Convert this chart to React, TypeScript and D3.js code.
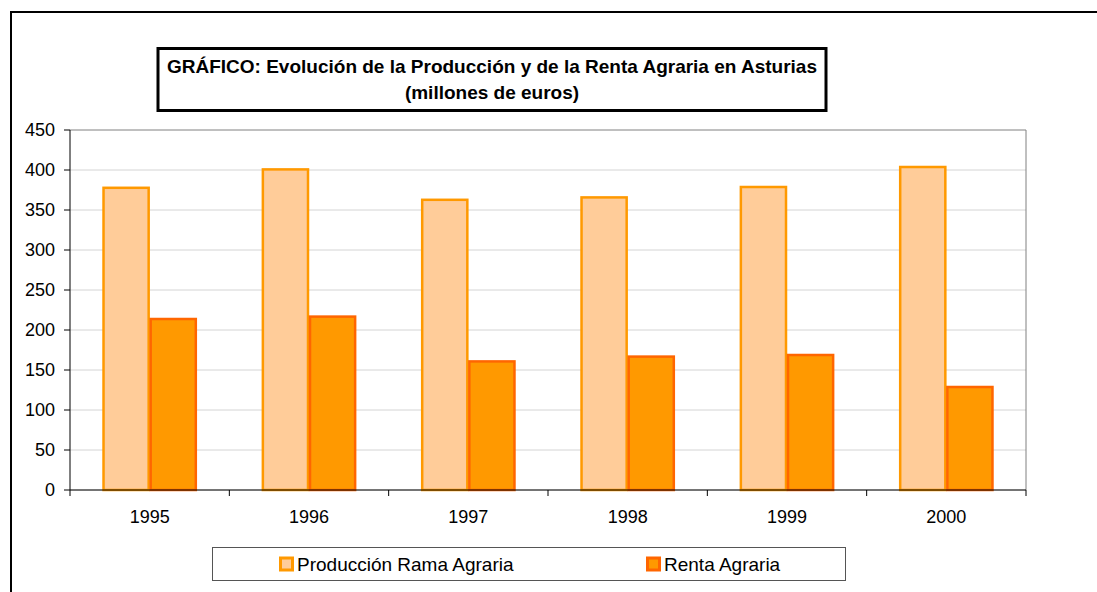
import { useMemo } from "react";
import { scaleBand, scaleLinear } from "d3";

const years = ["1995", "1996", "1997", "1998", "1999", "2000"];
const produccion = [379, 402, 364, 367, 380, 405];
const renta = [215, 218, 162, 168, 170, 130];
const yTicks = [0, 50, 100, 150, 200, 250, 300, 350, 400, 450];
const seriesNames = ["Producción Rama Agraria", "Renta Agraria"];

const W = 1097;
const H = 592;
const plot = { left: 70, right: 1026, top: 130, bottom: 490 };
const font = "'Liberation Sans', Arial, sans-serif";

export default function App() {
  const x = useMemo(
    () => scaleBand().domain(years).range([plot.left, plot.right]),
    []
  );
  const y = useMemo(
    () => scaleLinear().domain([0, 450]).range([plot.bottom, plot.top]),
    []
  );
  const inner = useMemo(
    () => scaleBand().domain(["p", "r"]).range([0, x.bandwidth()]).paddingOuter(0.69),
    [x]
  );
  const bw = inner.bandwidth();

  return (
    <svg
      width={W}
      height={H}
      style={{ position: "absolute", left: 0, top: 0, fontFamily: font }}
    >
      <rect width={W} height={H} fill="#fff" />
      {/* outer chart frame */}
      <path d={`M11,${H} L11,12 L${W},12`} fill="none" stroke="#000" strokeWidth={2} />

      {/* gridlines */}
      {yTicks.map((t) => (
        <line
          key={t}
          x1={plot.left}
          x2={plot.right}
          y1={y(t)}
          y2={y(t)}
          stroke={t === 450 ? "#808080" : "#d4d4d4"}
          strokeWidth={1}
        />
      ))}
      <line x1={plot.right} x2={plot.right} y1={plot.top} y2={plot.bottom} stroke="#808080" />

      {/* bars */}
      {years.map((yr, i) => (
        <g key={yr}>
          <rect
            x={(x(yr) ?? 0) + (inner("p") ?? 0) + 1}
            y={y(produccion[i]) + 1}
            width={bw - 2}
            height={y(0) - y(produccion[i]) - 1}
            fill="#FFCC99"
            stroke="#FF9900"
            strokeWidth={2.5}
          />
          <rect
            x={(x(yr) ?? 0) + (inner("r") ?? 0) + 1}
            y={y(renta[i]) + 1}
            width={bw - 2}
            height={y(0) - y(renta[i]) - 1}
            fill="#FF9900"
            stroke="#FF6600"
            strokeWidth={2.5}
          />
        </g>
      ))}

      {/* axes */}
      <line x1={plot.left} x2={plot.left} y1={plot.top} y2={plot.bottom} stroke="#000" />
      <line x1={plot.left} x2={plot.right} y1={plot.bottom} y2={plot.bottom} stroke="#000" />
      {yTicks.map((t) => (
        <g key={t}>
          <line x1={plot.left - 6} x2={plot.left} y1={y(t)} y2={y(t)} stroke="#000" />
          <text x={55} y={y(t)} dy="0.35em" textAnchor="end" fontSize={18} fill="#000">
            {t}
          </text>
        </g>
      ))}
      {[...years.map((yr) => x(yr) ?? 0), plot.right].map((px, i) => (
        <line key={i} x1={px} x2={px} y1={plot.bottom} y2={plot.bottom + 6} stroke="#000" />
      ))}
      {years.map((yr) => (
        <text
          key={yr}
          x={(x(yr) ?? 0) + x.bandwidth() / 2}
          y={523}
          textAnchor="middle"
          fontSize={18}
          fill="#000"
        >
          {yr}
        </text>
      ))}

      {/* title */}
      <rect x={158} y={48.5} width={668} height={62} fill="#fff" stroke="#000" strokeWidth={3} />
      <text x={492} y={72.5} textAnchor="middle" fontSize={19} fontWeight="bold" fill="#000">
        GRÁFICO: Evolución de la Producción y de la Renta Agraria en Asturias
      </text>
      <text x={492} y={99} textAnchor="middle" fontSize={19} fontWeight="bold" fill="#000">
        (millones de euros)
      </text>

      {/* legend */}
      <rect x={212.5} y={547.5} width={633} height={33} fill="#fff" stroke="#555" strokeWidth={1} />
      <rect x={280.5} y={558} width={12} height={12} fill="#FFCC99" stroke="#FF9900" strokeWidth={3} />
      <text x={297} y={571} fontSize={19} fill="#000">
        {seriesNames[0]}
      </text>
      <rect x={647.5} y={558} width={12} height={12} fill="#FF9900" stroke="#FF6600" strokeWidth={3} />
      <text x={664} y={571} fontSize={19} fill="#000">
        {seriesNames[1]}
      </text>
    </svg>
  );
}
